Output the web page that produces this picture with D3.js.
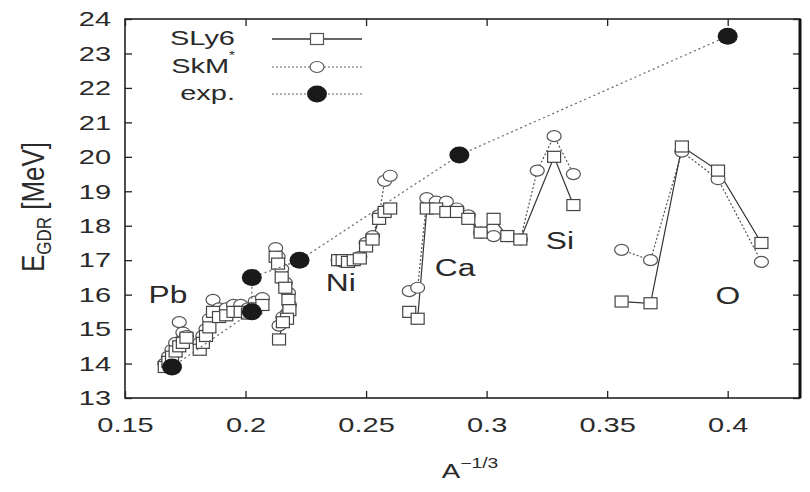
<!DOCTYPE html>
<html>
<head>
<meta charset="utf-8">
<script src="https://cdn.jsdelivr.net/npm/d3@7/dist/d3.min.js"></script>
<style>
  html, body { margin: 0; padding: 0; background: #fff; }
  svg text { font-family: "Liberation Sans", Arial, sans-serif; fill: #2a2a2a; }
</style>
</head>
<body>
<svg id="chart" width="810" height="492"></svg>
<script>
// ---------- data ----------
const xTicks = [0.15, 0.2, 0.25, 0.3, 0.35, 0.4];
const xTickLabels = ["0.15", "0.2", "0.25", "0.3", "0.35", "0.4"];
const yTicks = [13, 14, 15, 16, 17, 18, 19, 20, 21, 22, 23, 24];
const seriesNames = ["SLy6", "SkM", "exp."];

// Pb chain
const pbX    = [0.1665, 0.168, 0.1695, 0.171, 0.1725, 0.174, 0.1755];
const pbSLy6 = [13.9, 14.05, 14.2, 14.35, 14.5, 14.6, 14.75];
const pbSkM  = [14.0, 14.2, 14.4, 14.6, 15.2, 14.9, 14.8];

// middle chain (0.18 - 0.21)
const snX    = [0.181, 0.1823, 0.1836, 0.185, 0.1865, 0.189, 0.192, 0.195, 0.198, 0.201, 0.204, 0.207];
const snSLy6 = [14.4, 14.6, 14.8, 15.05, 15.5, 15.35, 15.4, 15.5, 15.5, 15.45, 15.6, 15.7];
const snSkM  = [14.6, 14.8, 15.0, 15.3, 15.85, 15.6, 15.6, 15.7, 15.7, 15.6, 15.8, 15.9];

// steep chain near 0.215
const zrX    = [0.2125, 0.2135, 0.2150, 0.2165, 0.2178, 0.2182, 0.2172, 0.2155, 0.2139];
const zrSLy6 = [17.1, 16.9, 16.5, 16.2, 15.85, 15.55, 15.3, 15.2, 14.7];
const zrSkM  = [17.35, 17.1, 16.75, 16.35, 16.05, 15.7, 15.45, 15.35, 15.1];

// Ni chain
const niX    = [0.2384, 0.2403, 0.2425, 0.2449, 0.2474, 0.2500, 0.2527, 0.2554, 0.2577, 0.2600];
const niSLy6 = [17.0, 17.0, 16.95, 17.0, 17.05, 17.4, 17.6, 18.2, 18.4, 18.5];
const niSkM  = [17.0, 16.95, 17.0, 17.0, 17.1, 17.5, 17.7, 18.3, 19.3, 19.45];

// Ca chain
const caX    = [0.2679, 0.2714, 0.2752, 0.2791, 0.2833, 0.2877, 0.2924, 0.2975, 0.3029, 0.3086];
const caSLy6 = [15.5, 15.3, 18.5, 18.5, 18.4, 18.4, 18.2, 17.8, 18.2, 17.7];
const caSkM  = [16.1, 16.2, 18.8, 18.7, 18.7, 18.5, 18.3, 17.8, 17.7, 17.7];

// Si chain
const siX    = [0.314, 0.321, 0.328, 0.336];
const siSLy6 = [17.6, null, 20.0, 18.6];
const siSkM  = [17.6, 19.6, 20.6, 19.5];

// O chain
const oX    = [0.356, 0.368, 0.381, 0.396, 0.414];
const oSLy6 = [15.8, 15.75, 20.3, 19.6, 17.5];
const oSkM  = [17.3, 17.0, 20.15, 19.35, 16.95];

// experiment
const expX = [0.1695, 0.2026, 0.2026, 0.2224, 0.2887, 0.400];
const expE = [13.9, 15.5, 16.5, 17.0, 20.05, 23.5];

// element labels
const elemNames = ["Pb", "Ni", "Ca", "Si", "O"];
const elemX = [0.1678, 0.2395, 0.2869, 0.3304, 0.4001];
const elemE = [15.93, 16.28, 16.72, 17.5, 15.9];

// ---------- layout ----------
const svg = d3.select("#chart");
const W = 810, H = 492;
const M = { l: 125, r: 10, t: 19, b: 94 };
const SX = 1.38; // horizontal stretch of the reference lettering
const x = d3.scaleLinear().domain([0.15, 0.43]).range([M.l, W - M.r]);
const y = d3.scaleLinear().domain([13, 24]).range([H - M.b, M.t]);

function stretch(sel) {
  sel.each(function () {
    const t = d3.select(this);
    const tx = +t.attr("x") || 0, ty = +t.attr("y") || 0;
    t.attr("x", 0).attr("y", 0).attr("transform", `translate(${tx},${ty}) scale(${SX},1)`);
  });
}

const chains = [
  { x: pbX, s: pbSLy6, k: pbSkM },
  { x: snX, s: snSLy6, k: snSkM },
  { x: zrX, s: zrSLy6, k: zrSkM },
  { x: niX, s: niSLy6, k: niSkM },
  { x: caX, s: caSLy6, k: caSkM },
  { x: siX, s: siSLy6, k: siSkM },
  { x: oX,  s: oSLy6,  k: oSkM }
];

const toPts = (xs, ys) => xs.map((v, i) => [v, ys[i]]).filter(d => d[1] != null);
const line = d3.line().x(d => x(d[0])).y(d => y(d[1]));

const gPlot = svg.append("g");

// axes (ticks inward on all four sides)
const tickLen = 7;
const axB = svg.append("g").attr("transform", `translate(0,${y(13)})`)
  .call(d3.axisBottom(x).tickValues(xTicks).tickFormat((d, i) => xTickLabels[i])
    .tickSizeInner(-tickLen).tickSizeOuter(0).tickPadding(19));
const axT = svg.append("g").attr("transform", `translate(0,${y(24)})`)
  .call(d3.axisTop(x).tickValues(xTicks).tickFormat("").tickSizeInner(-tickLen).tickSizeOuter(0));
const axL = svg.append("g").attr("transform", `translate(${x(0.15)},0)`)
  .call(d3.axisLeft(y).tickValues(yTicks).tickFormat(d3.format("d"))
    .tickSizeInner(-tickLen).tickSizeOuter(0).tickPadding(14));
const axR = svg.append("g").attr("transform", `translate(${x(0.43)},0)`)
  .call(d3.axisRight(y).tickValues(yTicks).tickFormat("").tickSizeInner(-tickLen).tickSizeOuter(0));
[axB, axT, axL, axR].forEach(a => {
  a.select(".domain").remove();
  a.selectAll(".tick line").attr("stroke", "#222").attr("stroke-width", 1.3);
  a.selectAll("text").style("font-size", "21px").attr("fill", "#2a2a2a");
});
stretch(axB.selectAll("text"));
stretch(axL.selectAll("text"));

// frame
svg.append("rect").attr("x", x(0.15)).attr("y", y(24))
  .attr("width", x(0.43) - x(0.15)).attr("height", y(13) - y(24))
  .attr("fill", "none").attr("stroke", "#222").attr("stroke-width", 1.6);
svg.append("line").attr("x1", x(0.43)).attr("x2", x(0.43)).attr("y1", y(24)).attr("y2", y(13))
  .attr("stroke", "#111").attr("stroke-width", 3);

// ---------- marks ----------
const sqW = 13, sqH = 11, crx = 7, cry = 5.5, erx = 10, ery = 8.5;

chains.forEach(c => {
  gPlot.append("path").attr("d", line(toPts(c.x, c.k))).attr("fill", "none")
    .attr("stroke", "#555").attr("stroke-width", 1.2).attr("stroke-dasharray", "2,2");
});
chains.forEach(c => {
  gPlot.append("path").attr("d", line(toPts(c.x, c.s))).attr("fill", "none")
    .attr("stroke", "#333").attr("stroke-width", 1.2);
});
chains.forEach(c => {
  gPlot.selectAll(null).data(toPts(c.x, c.k)).enter().append("ellipse")
    .attr("cx", d => x(d[0])).attr("cy", d => y(d[1])).attr("rx", crx).attr("ry", cry)
    .attr("fill", "#fff").attr("stroke", "#555").attr("stroke-width", 1.2);
});
chains.forEach(c => {
  gPlot.selectAll(null).data(toPts(c.x, c.s)).enter().append("rect")
    .attr("x", d => x(d[0]) - sqW / 2).attr("y", d => y(d[1]) - sqH / 2)
    .attr("width", sqW).attr("height", sqH)
    .attr("fill", "#fff").attr("stroke", "#444").attr("stroke-width", 1.2);
});

// experiment
const expPts = toPts(expX, expE);
gPlot.append("path").attr("d", line(expPts)).attr("fill", "none")
  .attr("stroke", "#666").attr("stroke-width", 1.2).attr("stroke-dasharray", "2,3");
gPlot.selectAll(null).data(expPts).enter().append("ellipse")
  .attr("cx", d => x(d[0])).attr("cy", d => y(d[1])).attr("rx", erx).attr("ry", ery).attr("fill", "#1a1a1a");

// element labels
const el = svg.selectAll(null).data(elemNames).enter().append("text")
  .attr("x", (d, i) => x(elemX[i])).attr("y", (d, i) => y(elemE[i]))
  .attr("text-anchor", "middle").attr("dominant-baseline", "middle")
  .style("font-size", "23px").text(d => d);
stretch(el);

// ---------- legend ----------
const lg = svg.append("g");
const lgY = [39, 67, 94];
const lgTextX = 235, lgL1 = 272, lgL2 = 362, lgM = 317;
seriesNames.forEach((n, i) => {
  const t = lg.append("text").attr("x", lgTextX).attr("y", lgY[i])
    .attr("text-anchor", "end").attr("dominant-baseline", "middle").style("font-size", "21px");
  t.append("tspan").text(n);
  if (i === 1) t.append("tspan").attr("dy", -11).style("font-size", "11px").text("*");
  stretch(t);
  const ln = lg.append("line").attr("x1", lgL1).attr("x2", lgL2).attr("y1", lgY[i]).attr("y2", lgY[i])
    .attr("stroke-width", i === 0 ? 1.6 : 1.2);
  if (i === 0) ln.attr("stroke", "#333");
  else ln.attr("stroke", "#666").attr("stroke-dasharray", "2,2");
  if (i === 0) lg.append("rect").attr("x", lgM - sqW / 2).attr("y", lgY[i] - sqH / 2)
    .attr("width", sqW).attr("height", sqH).attr("fill", "#fff").attr("stroke", "#555").attr("stroke-width", 1.2);
  else if (i === 1) lg.append("ellipse").attr("cx", lgM).attr("cy", lgY[i]).attr("rx", crx).attr("ry", cry)
    .attr("fill", "#fff").attr("stroke", "#555").attr("stroke-width", 1.2);
  else lg.append("ellipse").attr("cx", lgM).attr("cy", lgY[i]).attr("rx", erx).attr("ry", ery).attr("fill", "#1a1a1a");
});

// ---------- axis titles ----------
const xt = svg.append("text").attr("x", 470).attr("y", 478).attr("text-anchor", "middle")
  .style("font-size", "20px");
xt.append("tspan").text("A");
xt.append("tspan").attr("dy", -10).style("font-size", "14px").text("\u22121/3");
stretch(xt);

const yt = svg.append("text").attr("transform", `translate(44,207) scale(1.2,1) rotate(-90)`)
  .attr("text-anchor", "middle").style("font-size", "26px");
yt.append("tspan").text("E");
yt.append("tspan").attr("dy", 6).style("font-size", "17px").text("GDR");
yt.append("tspan").attr("dy", -6).text(" [MeV]");
</script>
</body>
</html>
